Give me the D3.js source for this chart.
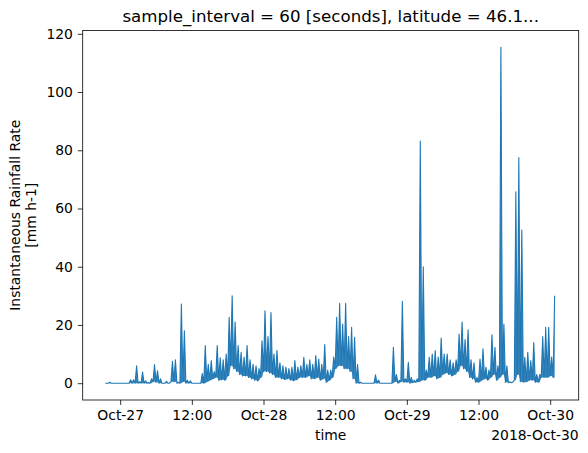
<!DOCTYPE html>
<html>
<head>
<meta charset="utf-8">
<script src="https://cdn.jsdelivr.net/npm/d3@7"></script>
<style>
  body { margin: 0; background: #fff; }
  svg { display: block; font-family: "DejaVu Sans", sans-serif; }
</style>
</head>
<body>
<div id="chart"></div>
<script>
// rainfall rate, min/max per 30-minute bin
const binStart = "2018-10-26T21:30:00Z";
const binMinutes = 30;
const rateLow = [
  0, 0, 0, 0, 0, 0, 0, 0, 0, 0,
  0, 0, 0, 0, 0, 0, 0.5, 0.3, 0, 0,
  0, 0, 0.5, 0.5, 0, 0, 0.5, 0, 0, 0,
  0, 0, 0, 0, 0.5, 1.0, 1.5, 2, 1.0, 1.2,
  1.0, 2.5, 6, 5, 4, 3, 2.5, 2.5, 2, 1.5,
  1, 0.8, 2, 4, 4, 3.5, 3, 2, 2, 1.5,
  1.2, 1.5, 1, 0.8, 1.2, 2, 2, 2, 2.5, 1.5,
  1.5, 2, 1, 1.5, 0.3, 1, 2, 5, 6, 6,
  5, 5, 4, 1.5, 0, 0, 0, 0, 0, 0,
  0, 0, 0, 0, 0, 0, 0, 0.5, 0, 0.5,
  0.3, 0.3, 0, 0.2, 0.3, 0.5, 1, 1, 2, 2,
  2.5, 1.5, 2, 3, 3.5, 3, 2.5, 3, 4, 6,
  5, 4, 2, 1.5, 0.3, 0.3, 1, 1.5, 1, 2,
  3, 1, 2, 3, 0.3, 0.2, 0.2, 1, 3, 0.5,
  0.3, 0.5, 1, 1, 0.3, 0.3, 2, 2, 2, 2.5,
  2
];
const rateHigh = [
  0, 0.3, 0, 0, 0, 0, 0, 0, 1.2, 1.2,
  6.0, 0.5, 3.8, 0.8, 0.2, 1.5, 6.4, 4.3, 1.5, 0,
  0.6, 0, 7.5, 8, 0.3, 27.2, 18, 1.0, 0.8, 0,
  0, 0, 3.3, 12.9, 6.5, 7.8, 4, 12.9, 8.7, 8.0,
  10.0, 22.6, 30, 21, 12.9, 10.6, 9, 12.9, 8, 6.5,
  6, 5, 14.6, 24.9, 16, 24.3, 10, 11.2, 7, 6,
  5.5, 5, 5.5, 7.8, 5.5, 6, 8.9, 6.5, 8, 6.5,
  9.5, 8.3, 6.5, 13.3, 4.5, 4.5, 9, 22.6, 27.4, 20.3,
  27.4, 16, 19.2, 15.8, 6.4, 0.3, 0, 0, 0, 0,
  2.9, 1.1, 0, 0, 0, 0, 12.3, 3, 1, 28.1,
  1.5, 7.2, 2, 1, 1.5, 83.2, 40, 4.5, 8.9, 10,
  11.2, 9, 15.5, 10, 10, 8, 7, 8, 16.9, 21,
  15, 18.3, 8, 7, 2, 8.3, 11.8, 5.5, 4.5, 16.6,
  12.3, 6, 115.4, 20.3, 6, 0.4, 0.4, 65.7, 77.5, 52.6,
  8.9, 10.6, 7.8, 14, 3, 3, 16, 19.2, 19.2, 9,
  30
];
const yTicks = [0, 20, 40, 60, 80, 100, 120];

const width = 588, height = 453;
const margin = {left: 82.7, top: 30.4, right: 588 - 578.7, bottom: 453 - 400};
const blue = "#1f77b4";

let t0 = new Date(binStart);
let points = [];
rateLow.forEach((lo, i) => {
  let t = d3.utcMinute.offset(t0, i * binMinutes);
  points.push({t: t, v: lo, base: lo});
  points.push({t: d3.utcMinute.offset(t, binMinutes / 2), v: rateHigh[i], base: lo});
});
let tEnd = d3.utcMinute.offset(t0, rateLow.length * binMinutes);
let pad = (tEnd - t0) * 0.05;
let vMax = d3.max(rateHigh);

let svg = d3.select("#chart")
            .append("svg")
            .attr("width", width)
            .attr("height", height);

let x = d3.scaleUtc()
          .domain([new Date(+t0 - pad), new Date(+tEnd + pad)])
          .range([margin.left, width - margin.right]);

let y = d3.scaleLinear()
          .domain([-0.05 * vMax, 1.05 * vMax])
          .range([height - margin.bottom, margin.top]);

let xTicks = d3.utcHour.every(12).range(x.domain()[0], x.domain()[1]);
let fmtDay = d3.utcFormat("%b-%d"), fmtHour = d3.utcFormat("%H:%M");

// the 1-minute samples are too dense to separate: shade each bin's range
svg.append("path")
   .datum(points)
   .attr("fill", blue)
   .attr("fill-opacity", 0.9)
   .attr("d", d3.area().x(d => x(d.t)).y0(d => y(d.base)).y1(d => y(d.v)));

svg.append("path")
   .datum(points)
   .attr("fill", "none")
   .attr("stroke", blue)
   .attr("stroke-width", 1.1)
   .attr("stroke-linejoin", "round")
   .attr("d", d3.line().x(d => x(d.t)).y(d => y(d.v)));

svg.append("g")
   .attr("transform", "translate(0," + (height - margin.bottom) + ")")
   .style("font-size", "13.9px")
   .call(d3.axisBottom(x)
           .tickValues(xTicks)
           .tickSize(4.9)
           .tickPadding(4.9)
           .tickFormat(d => d.getUTCHours() === 0 ? fmtDay(d) : fmtHour(d)))
   .call(g => g.select(".domain").remove())
   .call(g => g.selectAll("line").attr("stroke-width", 0.8))
   .call(g => g.selectAll("text").attr("fill", "#000").attr("font-family", "DejaVu Sans"));

svg.append("g")
   .attr("transform", "translate(" + margin.left + ",0)")
   .style("font-size", "13.9px")
   .call(d3.axisLeft(y)
           .tickValues(yTicks)
           .tickSize(4.9)
           .tickPadding(4.9))
   .call(g => g.select(".domain").remove())
   .call(g => g.selectAll("line").attr("stroke-width", 0.8))
   .call(g => g.selectAll("text").attr("fill", "#000").attr("font-family", "DejaVu Sans"));

// frame
svg.append("rect")
   .attr("x", margin.left)
   .attr("y", margin.top)
   .attr("width", width - margin.left - margin.right)
   .attr("height", height - margin.top - margin.bottom)
   .attr("fill", "none")
   .attr("stroke", "#000")
   .attr("stroke-width", 0.8);

let cx = (margin.left + width - margin.right) / 2;
let cy = (margin.top + height - margin.bottom) / 2;

svg.append("text")
   .attr("x", cx)
   .attr("y", 22)
   .attr("text-anchor", "middle")
   .style("font-size", "16.67px")
   .text("sample_interval = 60 [seconds], latitude = 46.1...");

svg.append("text")
   .attr("x", cx)
   .attr("y", 440)
   .attr("text-anchor", "middle")
   .style("font-size", "13.9px")
   .text("time");

svg.append("text")
   .attr("x", width - margin.right)
   .attr("y", 440)
   .attr("text-anchor", "end")
   .style("font-size", "13.9px")
   .text("2018-Oct-30");

let ylab = svg.append("text")
   .attr("transform", "translate(20," + cy + ") rotate(-90)")
   .attr("text-anchor", "middle")
   .style("font-size", "13.9px");
ylab.append("tspan").attr("x", 0).attr("dy", 0).text("Instantaneous Rainfall Rate");
ylab.append("tspan").attr("x", 0).attr("dy", "1.15em").text("[mm h-1]");
</script>
</body>
</html>
